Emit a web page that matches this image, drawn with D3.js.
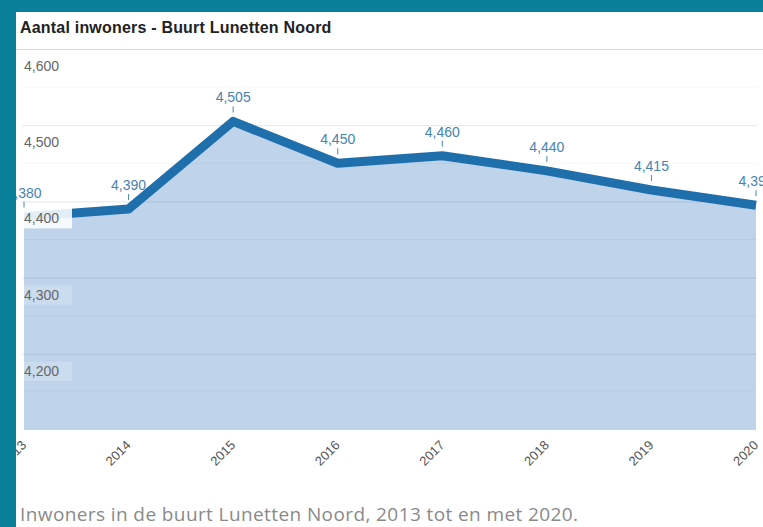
<!DOCTYPE html>
<html>
<head>
<meta charset="utf-8">
<script src="https://cdn.jsdelivr.net/npm/d3@7"></script>
<style>
  html, body { margin: 0; padding: 0; background: #ffffff; }
  svg { display: block; }
</style>
</head>
<body>
<svg id="chart" width="763" height="527"></svg>
<script>
const years = [2013, 2014, 2015, 2016, 2017, 2018, 2019, 2020];
const inhabitants = [4380, 4390, 4505, 4450, 4460, 4440, 4415, 4395];
const yTicks = [4200, 4300, 4400, 4500, 4600];
const yMinorTicks = [4150, 4250, 4350, 4450, 4550];
const titleText = "Aantal inwoners - Buurt Lunetten Noord";
const captionText = "Inwoners in de buurt Lunetten Noord, 2013 tot en met 2020.";

const W = 763, H = 527;
const svg = d3.select("#chart");
const fmt = d3.format(",");

const x = d3.scalePoint().domain(years).range([24, 756]);
const y = d3.scaleLinear().domain([4100, 4600]).range([430, 49]);

svg.append("rect").attr("width", W).attr("height", H).attr("fill", "#ffffff");

// area fill
const area = d3.area()
  .x((d, i) => x(years[i]))
  .y0(y(4100))
  .y1(d => y(d));
svg.append("path")
  .datum(inhabitants)
  .attr("d", area)
  .attr("fill", "#bfd4ea");

// minor gridlines
svg.append("g").selectAll("line").data(yMinorTicks).join("line")
  .attr("x1", 22).attr("x2", 757)
  .attr("y1", d => y(d)).attr("y2", d => y(d))
  .attr("stroke", "rgba(0,0,0,0.035)").attr("stroke-width", 1);

// major gridlines
svg.append("g").selectAll("line").data(yTicks).join("line")
  .attr("x1", d => d === 4600 ? 16 : 22).attr("x2", d => d === 4600 ? W : 757)
  .attr("y1", d => y(d) + 0.5).attr("y2", d => y(d) + 0.5)
  .attr("stroke", d => d === 4600 ? "#d8d8d8" : "rgba(60,80,100,0.14)").attr("stroke-width", 1);

// line
const line = d3.line()
  .x((d, i) => x(years[i]))
  .y(d => y(d));
svg.append("path")
  .datum(inhabitants)
  .attr("d", line)
  .attr("fill", "none")
  .attr("stroke", "#1f6fad")
  .attr("stroke-width", 9)
  .attr("stroke-linejoin", "round");

// y axis labels with light background
const yl = svg.append("g").selectAll("g").data(yTicks).join("g")
  .attr("transform", d => `translate(22, ${y(d) + 22})`);
yl.append("rect")
  .attr("x", 0).attr("y", d => d === 4400 ? -17 : -14).attr("width", 50).attr("height", d => d === 4400 ? 22 : 19)
  .attr("fill", "#ffffff").attr("opacity", d => d === 4400 ? 0.88 : 0.2);
yl.append("text")
  .attr("x", 2).attr("y", 0)
  .attr("font-family", "Liberation Sans, Arial, sans-serif")
  .attr("font-size", 14)
  .attr("fill", "#666")
  .text(d => fmt(d));

// data labels
const dl = svg.append("g").selectAll("g").data(inhabitants).join("g")
  .attr("transform", (d, i) => `translate(${x(years[i])}, ${y(d)})`);
dl.append("line")
  .attr("x1", 0).attr("x2", 0).attr("y1", -15).attr("y2", -9)
  .attr("stroke", "#4a86b4").attr("stroke-width", 1);
dl.append("text")
  .attr("y", -19)
  .attr("text-anchor", "middle")
  .attr("font-family", "Liberation Sans, Arial, sans-serif")
  .attr("font-size", 14)
  .attr("fill", "#4683b1")
  .text(d => fmt(d));

// x axis labels
svg.append("g").selectAll("text").data(years).join("text")
  .attr("transform", d => `translate(${x(d) + 3}, 446) rotate(-45)`)
  .attr("text-anchor", "end")
  .attr("font-family", "Liberation Sans, Arial, sans-serif")
  .attr("font-size", 13)
  .attr("fill", "#555")
  .text(d => d);

// title
svg.append("text")
  .attr("x", 20).attr("y", 33)
  .attr("font-family", "Liberation Sans, Arial, sans-serif")
  .attr("font-weight", "bold")
  .attr("font-size", 16)
  .attr("letter-spacing", 0.2)
  .attr("fill", "#222")
  .text(titleText);

// caption
svg.append("text")
  .attr("x", 20).attr("y", 521)
  .attr("font-family", "Open Sans, sans-serif")
  .attr("font-size", 19)
  .attr("letter-spacing", 0.4)
  .attr("fill", "#8a8a8a")
  .text(captionText);

// teal frame (top and left)
svg.append("rect").attr("x", 0).attr("y", 0).attr("width", W).attr("height", 12).attr("fill", "#0a7f9a");
svg.append("rect").attr("x", 0).attr("y", 0).attr("width", 16).attr("height", H).attr("fill", "#0a7f9a");
</script>
</body>
</html>
